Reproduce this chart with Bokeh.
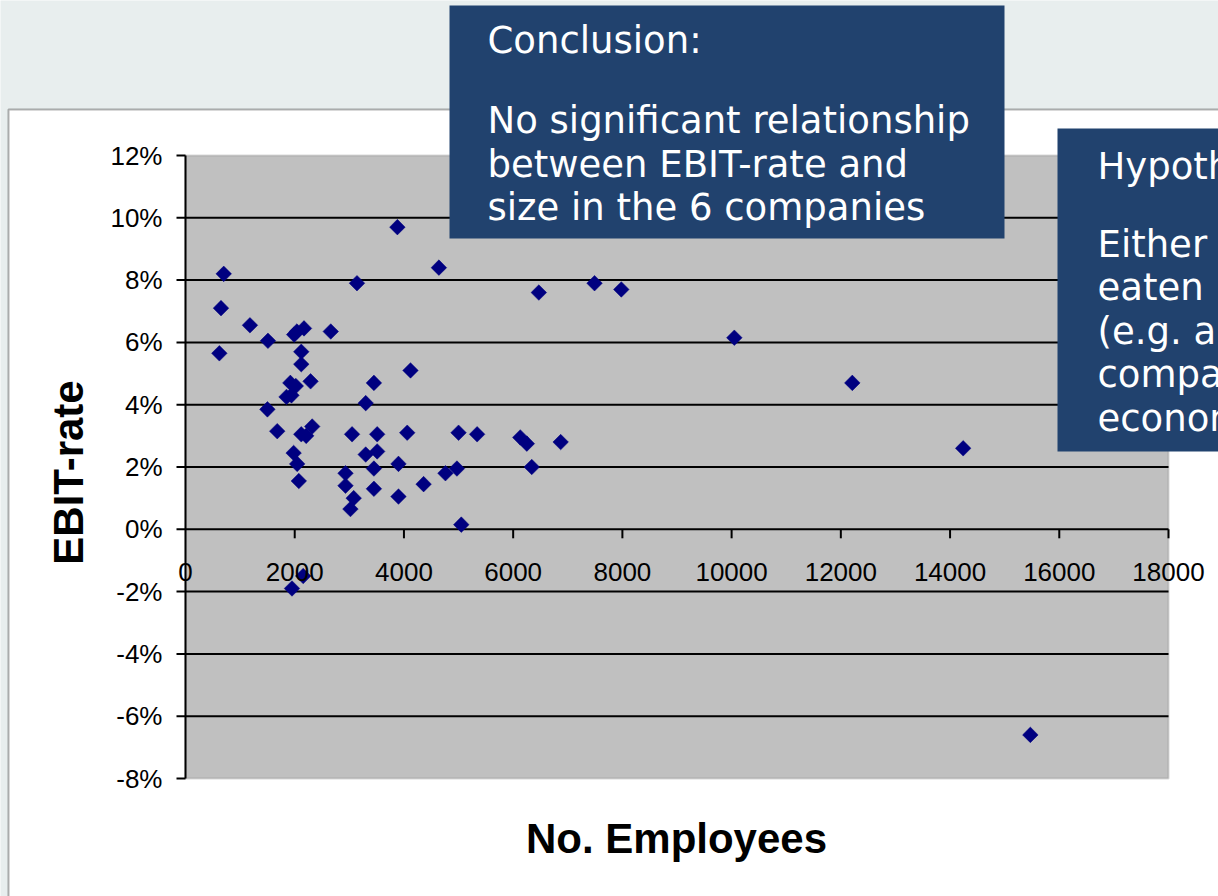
import numpy as np
from bokeh.plotting import figure
from bokeh.models import Range1d, BoxAnnotation, Label, LabelSet, ColumnDataSource
from bokeh.core.properties import value
from bokeh.embed import file_html
from bokeh.resources import INLINE

# Company size vs. EBIT-rate (percent)
employees = [700, 650, 620, 1180, 1510, 1500, 1680, 1990, 2040, 2170,
             2120, 2120, 1920, 2020, 1850, 1940, 2290, 2320, 2120, 2210,
             1980, 2045, 2075, 1950, 2155, 2660, 3140, 4640, 6470, 3450,
             3300, 4120, 3050, 3510, 4060, 5000, 5340, 6130, 6250, 6870,
             3300, 3510, 3450, 3900, 2930, 2930, 3080, 3020, 3450, 3900,
             4360, 4760, 4970, 6340, 5050, 7490, 7980, 10050, 12210, 14240,
             15470, 3880]
ebit_rate = [8.2, 7.1, 5.65, 6.55, 6.05, 3.85, 3.15, 6.25, 6.35, 6.45,
             5.7, 5.3, 4.7, 4.6, 4.25, 4.3, 4.75, 3.3, 3.05, 3.0,
             2.45, 2.1, 1.55, -1.9, -1.5, 6.35, 7.9, 8.4, 7.6, 4.7,
             4.05, 5.1, 3.05, 3.05, 3.1, 3.1, 3.05, 2.95, 2.75, 2.8,
             2.4, 2.5, 1.95, 2.1, 1.8, 1.4, 1.0, 0.65, 1.3, 1.05,
             1.45, 1.8, 1.95, 2.0, 0.15, 7.9, 7.7, 6.15, 4.7, 2.6,
             -6.6, 9.7]

x_ticks = [0, 2000, 4000, 6000, 8000, 10000, 12000, 14000, 16000, 18000]
x_tick_labels = [str(t) for t in x_ticks]
y_ticks = [-8, -6, -4, -2, 0, 2, 4, 6, 8, 10, 12]
y_tick_labels = ["%d%%" % t for t in y_ticks]
grid_ticks = y_ticks[1:-1]

x_title = "No. Employees"
y_title = "EBIT-rate"
conclusion_lines = ["Conclusion:", "No significant relationship",
                    "between EBIT-rate and", "size in the 6 companies"]
hypothesis_lines = ["Hypothesis:", "Either", "eaten by", "(e.g. a",
                    "companies", "economies"]

W, H = 1218, 896
# plot area in canvas pixels
PX_LEFT, PX_RIGHT, PX_TOP, PX_BOTTOM = 185, 1168, 155, 778

PAGE_BG = "#E8EEEE"
PLOT_BG = "#C0C0C0"
BOX_BLUE = "#21426E"
NAVY = "#000080"
AXIS_FONT = "Liberation Sans"
BOX_FONT = "DejaVu Sans"

# the frame spans the whole canvas; ranges are widened so that the
# data extents land on the plot-area pixels
x0, x1 = x_ticks[0], x_ticks[-1]
y0, y1 = y_ticks[0], y_ticks[-1]
sx = (x1 - x0) / (PX_RIGHT - PX_LEFT)
sy = (y1 - y0) / (PX_BOTTOM - PX_TOP)
x_range = Range1d(x0 - PX_LEFT * sx, x1 + (W - PX_RIGHT) * sx)
y_range = Range1d(y0 - (H - PX_BOTTOM) * sy, y1 + PX_TOP * sy)

p = figure(width=W, height=H, output_backend="svg", toolbar_location=None,
           x_range=x_range, y_range=y_range,
           x_axis_location=None, y_axis_location=None,
           min_border=0)
p.border_fill_color = PAGE_BG
p.background_fill_color = PAGE_BG
p.outline_line_color = None
p.grid.visible = False

# white chart panel
p.add_layout(BoxAnnotation(left=8, right=W + 20, top=109, bottom=H + 20,
                           left_units="canvas", right_units="canvas",
                           top_units="canvas", bottom_units="canvas",
                           fill_color="white", fill_alpha=1,
                           line_color="black", line_width=2, level="image"))
# grey plot area
p.add_layout(BoxAnnotation(left=x0, right=x1, bottom=y0, top=y1,
                           fill_color=PLOT_BG, fill_alpha=1,
                           line_color="#808080", line_width=2, level="image"))

# horizontal gridlines
p.segment(x0=x0, x1=x1, y0=grid_ticks, y1=grid_ticks,
          line_color="black", line_width=2)

# y axis
p.segment(x0=x0, x1=x0, y0=y0, y1=y1, line_color="black", line_width=2)
p.ray(x=x0, y=y_ticks, length=9, length_units="screen", angle=np.pi,
      line_color="black", line_width=2)
ylab_src = ColumnDataSource(dict(x=[x0] * len(y_ticks), y=y_ticks, t=y_tick_labels))
p.add_layout(LabelSet(x="x", y="y", text="t", source=ylab_src, x_offset=-23,
                      text_align="right", text_baseline="middle",
                      text_font=value(AXIS_FONT), text_font_size="26px",
                      text_color="black"))

# x axis along the 0% line
p.ray(x=x_ticks[1:], y=0, length=9, length_units="screen", angle=-np.pi / 2,
      line_color="black", line_width=2)
xlab_src = ColumnDataSource(dict(x=x_ticks, y=[0] * len(x_ticks), t=x_tick_labels))
p.add_layout(LabelSet(x="x", y="y", text="t", source=xlab_src, y_offset=-43,
                      text_align="center", text_baseline="middle",
                      text_font=value(AXIS_FONT), text_font_size="26px",
                      text_color="black"))

# data points
p.scatter(employees, ebit_rate, marker="square", angle=np.pi / 4, size=11,
          fill_color=NAVY, line_color=NAVY, line_width=0.5)

# axis titles
p.add_layout(Label(x=676, y=838, x_units="canvas", y_units="canvas",
                   text=x_title, text_align="center", text_baseline="alphabetic",
                   text_font=AXIS_FONT, text_font_style="bold",
                   text_font_size="42px", text_color="black"))
p.add_layout(Label(x=68, y=472, x_units="canvas", y_units="canvas",
                   text=y_title, angle=np.pi / 2, text_align="center",
                   text_baseline="alphabetic",
                   text_font=AXIS_FONT, text_font_style="bold",
                   text_font_size="42px", text_color="black"))


# callout boxes
def callout(left, right, top, bottom, x_text, baselines, lines):
    p.add_layout(BoxAnnotation(left=left, right=right, top=top, bottom=bottom,
                               left_units="canvas", right_units="canvas",
                               top_units="canvas", bottom_units="canvas",
                               fill_color=BOX_BLUE, fill_alpha=1, line_alpha=0,
                               level="overlay"))
    for b, line in zip(baselines, lines):
        p.add_layout(Label(x=x_text, y=b, x_units="canvas", y_units="canvas",
                           text=line, text_align="left", text_baseline="alphabetic",
                           text_font=BOX_FONT, text_font_size="37px",
                           text_color="white", level="overlay"))


callout(449, 1004, 5, 238, 487, [40, 120, 164, 207], conclusion_lines)
callout(1057, W + 20, 128, 451, 1097, [166, 244, 287, 331, 374, 418], hypothesis_lines)

open("out.html", "w").write(file_html(p, INLINE))
